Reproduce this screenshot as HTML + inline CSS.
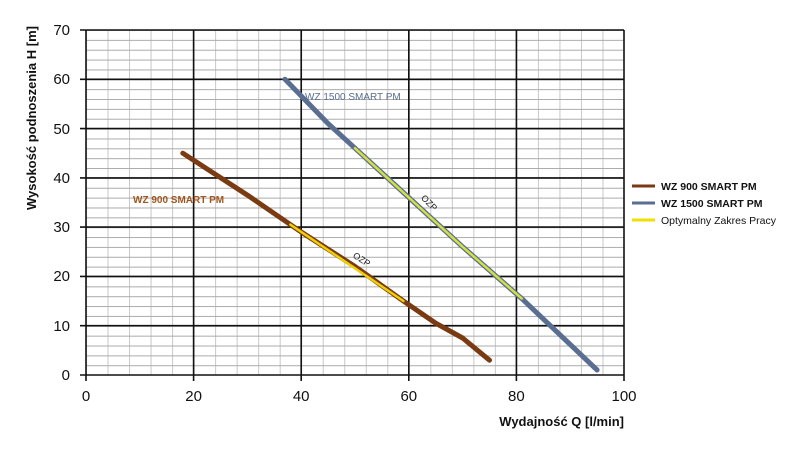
<!DOCTYPE html>
<html><head><meta charset="utf-8"><style>
body{margin:0;background:#fff}
svg{display:block;font-family:"Liberation Sans",sans-serif}
</style></head><body>
<svg width="800" height="449" viewBox="0 0 800 449" xmlns="http://www.w3.org/2000/svg">
<defs>
<pattern id="pv" x="86" y="0" width="21.52" height="449" patternUnits="userSpaceOnUse"><line x1="0.5" y1="0" x2="0.5" y2="449" stroke="#c8c8c8" stroke-width="1"/></pattern>
<pattern id="ph" x="0" y="30" width="800" height="9.86" patternUnits="userSpaceOnUse"><line x1="0" y1="0.5" x2="800" y2="0.5" stroke="#aaaaaa" stroke-width="1"/></pattern>
</defs>
<rect x="86" y="30" width="538" height="345" fill="url(#pv)"/>
<rect x="86" y="30" width="538" height="345" fill="url(#ph)"/>
<g stroke="#111" stroke-width="1.6">
<line x1="80" y1="30" x2="624" y2="30"/><line x1="80" y1="79.3" x2="624" y2="79.3"/><line x1="80" y1="128.6" x2="624" y2="128.6"/><line x1="80" y1="177.9" x2="624" y2="177.9"/><line x1="80" y1="227.1" x2="624" y2="227.1"/><line x1="80" y1="276.4" x2="624" y2="276.4"/><line x1="80" y1="325.7" x2="624" y2="325.7"/><line x1="80" y1="375" x2="624" y2="375"/>
<line x1="86" y1="30" x2="86" y2="381"/><line x1="193.6" y1="30" x2="193.6" y2="381"/><line x1="301.2" y1="30" x2="301.2" y2="381"/><line x1="408.8" y1="30" x2="408.8" y2="381"/><line x1="516.4" y1="30" x2="516.4" y2="381"/><line x1="624" y1="30" x2="624" y2="381"/>
</g>
<g font-size="15" fill="#111" text-anchor="end">
<text x="70" y="35">70</text><text x="70" y="84">60</text><text x="70" y="134">50</text><text x="70" y="183">40</text><text x="70" y="232">30</text><text x="70" y="281">20</text><text x="70" y="331">10</text><text x="70" y="380">0</text>
</g>
<g font-size="15" fill="#111" text-anchor="middle">
<text x="86" y="401">0</text><text x="193.6" y="401">20</text><text x="301.2" y="401">40</text><text x="408.8" y="401">60</text><text x="516.4" y="401">80</text><text x="624" y="401">100</text>
</g>
<text x="624" y="426" font-size="13" font-weight="bold" text-anchor="end" fill="#111">Wydajność Q [l/min]</text>
<text transform="translate(36,118) rotate(-90)" font-size="13" font-weight="bold" text-anchor="middle" fill="#111">Wysokość podnoszenia H [m]</text>
<g fill="none" stroke-linecap="round" stroke-linejoin="round">
<polyline points="182.8,153.2 247.4,195.1 301.2,232 355,266.5 403.4,301 435.7,323.2 462.6,338 489.5,360.2" stroke="#7a3a12" stroke-width="5"/>
<line x1="290.4" y1="224.6" x2="403.4" y2="301" stroke="#f0d000" stroke-width="2.5"/>
<polyline points="285,79.2 328.1,123.6 355,148.2 408.8,197.5 462.6,246.8 521.8,298.6 597.1,370" stroke="#5a6e92" stroke-width="5"/>
<polyline points="355,148.2 408.8,197.5 462.6,246.8 521.8,298.6" stroke="#d4e040" stroke-width="2.5"/>
</g>
<text x="305" y="100" font-size="10" fill="#5a6e92">WZ 1500 SMART PM</text>
<text x="133" y="203" font-size="10" font-weight="bold" fill="#a0561e">WZ 900 SMART PM</text>
<text transform="translate(427,205) rotate(45)" font-size="9" fill="#222" text-anchor="middle">OZP</text>
<text transform="translate(360,262) rotate(33)" font-size="9" fill="#222" text-anchor="middle">OZP</text>
<line x1="632" y1="186" x2="655" y2="186" stroke="#7a3a12" stroke-width="3"/>
<line x1="632" y1="203" x2="655" y2="203" stroke="#5a6e92" stroke-width="3"/>
<line x1="632" y1="220" x2="655" y2="220" stroke="#f0e000" stroke-width="3"/>
<g font-size="10.5" fill="#111">
<text x="661" y="190" font-weight="bold">WZ 900 SMART PM</text>
<text x="661" y="207" font-weight="bold">WZ 1500 SMART PM</text>
<text x="661" y="224">Optymalny Zakres Pracy</text>
</g>
</svg>
</body></html>
